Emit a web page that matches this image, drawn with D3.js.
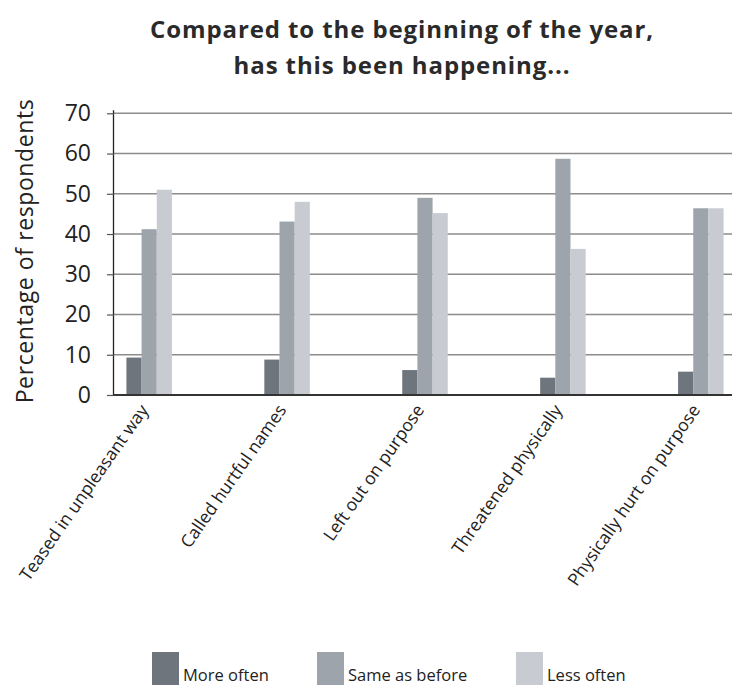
<!DOCTYPE html>
<html><head><meta charset="utf-8">
<script src="https://cdn.jsdelivr.net/npm/d3@7"></script>
<style>body{margin:0;background:#fff}svg{display:block}</style>
</head><body>
<svg id="chart" width="732" height="685"></svg>
<script>
const categories = ["Teased in unpleasant way","Called hurtful names","Left out on purpose","Threatened physically","Physically hurt on purpose"];
const seriesNames = ["More often","Same as before","Less often"];
const moreOften = [9.3, 8.8, 6.2, 4.3, 5.8];
const sameAsBefore = [41.2, 43.1, 49.0, 58.7, 46.4];
const lessOften = [51.0, 48.0, 45.2, 36.3, 46.4];
const yTicks = [0, 10, 20, 30, 40, 50, 60, 70];
const seriesColors = ["#6e757c", "#9da4ab", "#c8cbd2"];
const titleLines = ["Compared to the beginning of the year,", "has this been happening..."];
const yLabel = "Percentage of respondents";

const seriesValues = [moreOften, sameAsBefore, lessOften];
const rows = categories.map((c, i) => ({cat: c, vals: seriesNames.map((s, j) => ({s, v: seriesValues[j][i], j}))}));

const svg = d3.select("#chart");
const W = 732, H = 685;
const plotLeft = 114, plotBottom = 395, plotTop = 113.3;

const y = d3.scaleLinear().domain([0, 70]).range([plotBottom, plotTop]);
const x = d3.scaleBand().domain(categories).range([plotLeft, 736]).paddingInner(0.67).paddingOuter(0.09).align(0.5);
const xs = d3.scaleBand().domain(seriesNames).range([0, x.bandwidth()]);
const color = d3.scaleOrdinal().domain(seriesNames).range(seriesColors);

// title
svg.append("g").selectAll("text").data(titleLines).join("text")
  .attr("x", 402).attr("y", (d, i) => 38 + i * 36)
  .attr("text-anchor", "middle")
  .attr("font-family", "'Open Sans', sans-serif").attr("font-weight", 700)
  .attr("font-size", 24).attr("letter-spacing", 0.9).attr("fill", "#2a2a2a")
  .text(d => d);

// gridlines
svg.append("g").selectAll("line").data(yTicks).join("line")
  .attr("x1", plotLeft).attr("x2", W)
  .attr("y1", d => y(d)).attr("y2", d => y(d))
  .attr("stroke", "#8c8c8c").attr("stroke-width", 1.5);

// bars
const g = svg.append("g").selectAll("g").data(rows).join("g")
  .attr("transform", d => `translate(${x(d.cat)},0)`);
g.selectAll("rect").data(d => d.vals).join("rect")
  .attr("x", d => xs(d.s)).attr("width", xs.bandwidth())
  .attr("y", d => y(d.v)).attr("height", d => y(0) - y(d.v))
  .attr("fill", d => color(d.s));

// y axis
const yAxis = d3.axisLeft(y).tickValues(yTicks).tickSize(7).tickPadding(16);
const ya = svg.append("g").attr("transform", `translate(${plotLeft},0)`).call(yAxis);
ya.select(".domain").attr("stroke", "#222").attr("stroke-width", 1.3).attr("d", `M-0.5,${plotBottom}V${plotTop - 3}`);
ya.selectAll(".tick line").attr("stroke", "#555").attr("stroke-width", 1.2);
ya.selectAll(".tick text").attr("font-family", "'Open Sans', sans-serif").attr("font-size", 23).attr("fill", "#222");

// x axis baseline
const xAxis = d3.axisBottom(x).tickSize(0).tickFormat("");
const xa = svg.append("g").attr("transform", `translate(0,${plotBottom})`).call(xAxis);
xa.select(".domain").attr("stroke", "#333").attr("stroke-width", 2).attr("d", `M${plotLeft},0H${W}`);

// x labels
svg.append("g").selectAll("text").data(categories).join("text")
  .attr("transform", d => `translate(${x(d) + x.bandwidth() / 2},${plotBottom + 15}) rotate(-55)`)
  .attr("text-anchor", "end")
  .attr("font-family", "'Open Sans', sans-serif").attr("font-size", 17.5).attr("fill", "#222")
  .text(d => d);

// y label
svg.append("text")
  .attr("transform", `translate(33,251) rotate(-90)`)
  .attr("text-anchor", "middle")
  .attr("font-family", "'Open Sans', sans-serif").attr("font-size", 23).attr("fill", "#222")
  .attr("letter-spacing", 0.6)
  .text(yLabel);

// legend
const legendX = d3.scaleOrdinal().domain(seriesNames).range([152, 317, 516]);
const lg = svg.append("g").selectAll("g").data(seriesNames).join("g")
  .attr("transform", d => `translate(${legendX(d)},652)`);
lg.append("rect").attr("width", 27).attr("height", 40).attr("fill", d => color(d));
lg.append("text").attr("x", 31).attr("y", 29)
  .attr("font-family", "'Open Sans', sans-serif").attr("font-size", 16.5).attr("fill", "#222")
  .text(d => d);
</script>
</body></html>
